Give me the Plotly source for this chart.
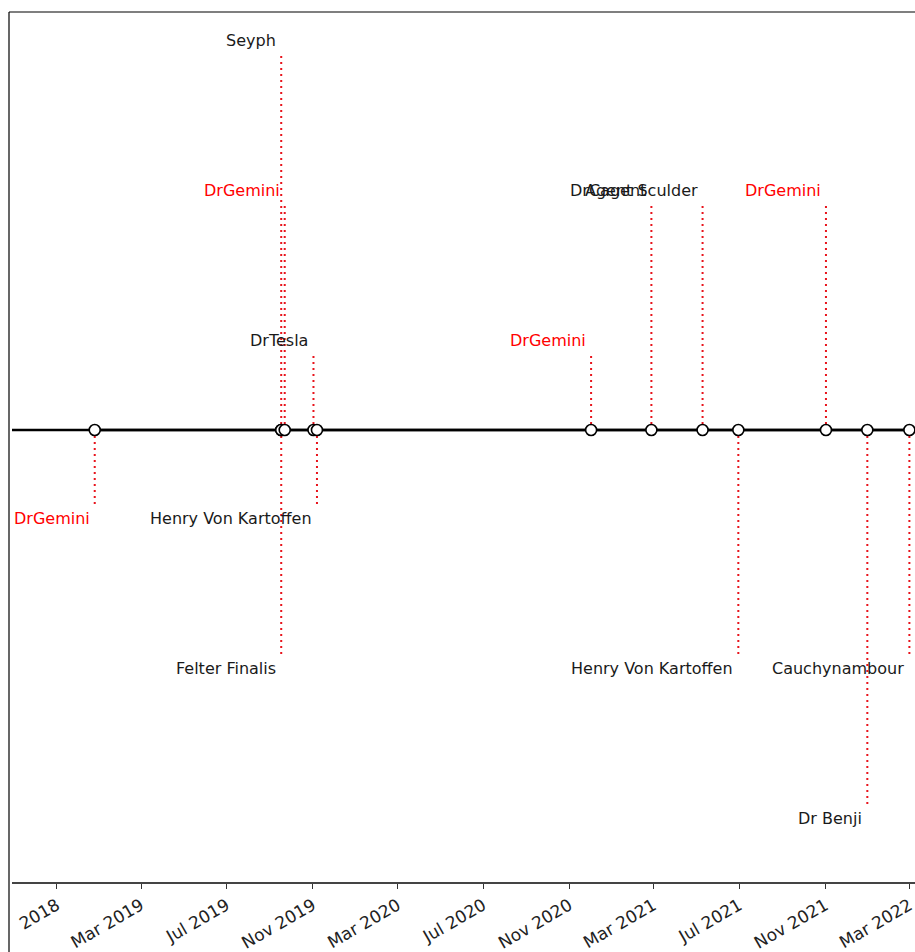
import plotly.graph_objects as go

# ---- data ----
dates = ["2018-12-25", "2019-09-17", "2019-09-17", "2019-09-22", "2019-11-02",
         "2019-11-07", "2020-12-02", "2021-02-26", "2021-05-10", "2021-06-30",
         "2021-11-02", "2021-12-31", "2022-03-01"]
names = ["DrGemini", "Felter Finalis", "Seyph", "DrGemini", "DrTesla",
         "Henry Von Kartoffen", "DrGemini", "DrCagent", "Agent Sculder",
         "Henry Von Kartoffen", "DrGemini", "Dr Benji", "Cauchynambour"]
levels = [-1, -3, 5, 3, 1, -1, 1, 3, 3, -3, 3, -5, -3]

tick_vals = ["2018-11-01", "2019-03-01", "2019-07-01", "2019-11-01", "2020-03-01",
             "2020-07-01", "2020-11-01", "2021-03-01", "2021-07-01", "2021-11-01",
             "2022-03-01"]
tick_text = ["2018", "Mar 2019", "Jul 2019", "Nov 2019", "Mar 2020", "Jul 2020",
             "Nov 2020", "Mar 2021", "Jul 2021", "Nov 2021", "Mar 2022"]

FONT = "DejaVu Sans, Verdana, sans-serif"

fig = go.Figure()

# stems
sx, sy = [], []
for d, l in zip(dates, levels):
    sx += [d, d, None]
    sy += [0, l, None]
fig.add_trace(go.Scatter(x=sx, y=sy, mode="lines",
                         line=dict(color="#e8141c", width=2, dash="2px,4px"),
                         hoverinfo="skip", showlegend=False))

# baseline with markers
fig.add_trace(go.Scatter(x=dates, y=[0] * len(dates), mode="lines+markers",
                         line=dict(color="black", width=2.5),
                         marker=dict(size=11, color="white",
                                     line=dict(color="black", width=1.6)),
                         showlegend=False, cliponaxis=False))

# full width axhline
fig.add_shape(type="line", xref="paper", yref="y", x0=0, x1=1, y0=0, y1=0,
              line=dict(color="black", width=2.5), layer="below")

for d, l, n in zip(dates, levels, names):
    fig.add_annotation(x=d, y=l, text=n, showarrow=False,
                       xanchor="right", yanchor="bottom" if l > 0 else "top",
                       xshift=-3, yshift=3 if l > 0 else -2,
                       font=dict(family=FONT, size=16,
                                 color="#ff0000" if n == "DrGemini" else "#1a1a1a"))

W, H = 915, 952
L, R, T, B = 12, 0, 12, 70
pw, ph = W - L - R, H - T - B
# image border lines (top and left)
bx = (9 - L) / pw
fig.add_shape(type="line", xref="paper", yref="paper",
              x0=bx, x1=1.0, y0=1.0, y1=1.0,
              line=dict(color="black", width=1.2))
fig.add_shape(type="line", xref="paper", yref="paper",
              x0=bx, x1=bx, y0=1.0, y1=-(B + 2) / ph,
              line=dict(color="black", width=1.2))

fig.update_layout(
    width=W, height=H,
    margin=dict(l=L, r=R, t=T, b=B, pad=0),
    paper_bgcolor="white", plot_bgcolor="white",
    template="none",
    xaxis=dict(type="date", range=["2018-08-29", "2022-03-09"],
               tickvals=tick_vals, ticktext=tick_text, tickangle=-30,
               ticks="outside", ticklen=5, tickwidth=1.3, tickcolor="#333",
               ticklabeloverflow="allow",
               showline=True, linecolor="#444", linewidth=2,
               showgrid=False, zeroline=False, automargin=False,
               tickfont=dict(family=FONT, size=17, color="#222")),
    yaxis=dict(range=[-6.027, 5.573], visible=False, showgrid=False,
               zeroline=False, automargin=False),
    showlegend=False,
)

fig.write_html(
    "out.html",
    config={"displayModeBar": False},
    post_script="document.body.style.margin='0';"
                "document.body.style.overflow='hidden';"
                "document.documentElement.style.overflow='hidden';",
)
